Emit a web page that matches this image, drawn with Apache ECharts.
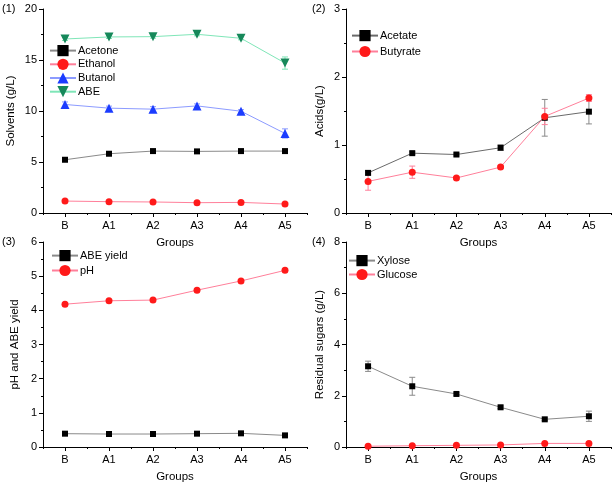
<!DOCTYPE html>
<html>
<head>
<meta charset="utf-8">
<script src="https://cdn.jsdelivr.net/npm/echarts@6/dist/echarts.min.js"></script>
<style>html,body{margin:0;padding:0;background:#fff}#c{width:614px;height:485px}</style>
</head>
<body>
<div id="c"></div>
<script>
const categories = ['B', 'A1', 'A2', 'A3', 'A4', 'A5'];
// Panel 1: solvents (g/L)
const acetone = [5.22, 5.81, 6.07, 6.04, 6.07, 6.07];
const acetoneErr = [0.15, 0.15, 0.12, 0.12, 0.12, 0.15];
const ethanol = [1.17, 1.11, 1.08, 1.01, 1.04, 0.88];
const ethanolErr = [0.05, 0.05, 0.05, 0.05, 0.05, 0.05];
const butanol = [10.64, 10.28, 10.18, 10.5, 9.98, 7.8];
const butanolErr = [0.25, 0.2, 0.25, 0.2, 0.15, 0.45];
const abe = [17.06, 17.26, 17.29, 17.52, 17.13, 14.7];
const abeErr = [0.15, 0.15, 0.15, 0.15, 0.15, 0.6];
// Panel 2: acids (g/L)
const acetate = [0.59, 0.88, 0.86, 0.96, 1.40, 1.49];
const acetateErr = [0.03, 0.02, 0.02, 0.04, 0.27, 0.18];
const butyrate = [0.465, 0.60, 0.515, 0.675, 1.42, 1.69];
const butyrateErr = [0.13, 0.09, 0.02, 0.02, 0.12, 0.05];
// Panel 3: pH and ABE yield
const abeYield = [0.39, 0.38, 0.38, 0.39, 0.40, 0.34];
const abeYieldErr = [0.01, 0.01, 0.01, 0.01, 0.01, 0.01];
const ph = [4.18, 4.28, 4.30, 4.59, 4.86, 5.17];
const phErr = [0.02, 0.02, 0.02, 0.02, 0.02, 0.02];
// Panel 4: residual sugars (g/L)
const xylose = [3.15, 2.37, 2.07, 1.55, 1.08, 1.20];
const xyloseErr = [0.2, 0.35, 0.05, 0.05, 0.05, 0.2];
const glucose = [0.03, 0.05, 0.065, 0.08, 0.14, 0.14];
const glucoseErr = [0.01, 0.01, 0.01, 0.01, 0.01, 0.01];

const FONT = 'Liberation Sans, Arial, sans-serif';
const chart = echarts.init(document.getElementById('c'), null, {renderer: 'canvas'});

const grids = [
  {left: 43, top: 9, width: 264, height: 204},
  {left: 346, top: 9, width: 265, height: 204},
  {left: 43, top: 242, width: 264, height: 205},
  {left: 346, top: 242, width: 265, height: 205}
];
const yCfg = [
  {max: 20, interval: 5, name: 'Solvents (g/L)', gap: 26},
  {max: 3, interval: 1, name: 'Acids(g/L)', gap: 20},
  {max: 6, interval: 1, name: 'pH and ABE yield', gap: 22},
  {max: 8, interval: 2, name: 'Residual sugars (g/L)', gap: 20}
];

const xAxis = [], yAxis = [];
grids.forEach((g, i) => {
  xAxis.push({
    type: 'category', gridIndex: i, data: categories, boundaryGap: true,
    name: 'Groups', nameLocation: 'middle', nameGap: 24,
    nameTextStyle: {fontFamily: FONT, fontSize: 11.5, color: '#000'},
    axisLine: {lineStyle: {color: '#000', width: 1}},
    axisTick: {show: true, alignWithLabel: false, length: 2, lineStyle: {color: '#000'}},
    axisLabel: {fontFamily: FONT, fontSize: 11, color: '#000', margin: 7},
    splitLine: {show: false}
  });
  xAxis.push({
    type: 'category', gridIndex: i, data: categories, boundaryGap: true, position: 'bottom',
    axisLine: {show: false},
    axisTick: {show: true, alignWithLabel: true, length: 4, lineStyle: {color: '#000'}},
    axisLabel: {show: false}, splitLine: {show: false}
  });
  const c = yCfg[i];
  yAxis.push({
    type: 'value', gridIndex: i, min: 0, max: c.max, interval: c.interval,
    name: c.name, nameLocation: 'middle', nameGap: c.gap, nameRotate: 90,
    nameTextStyle: {fontFamily: FONT, fontSize: 11.5, color: '#000'},
    axisLine: {show: true, lineStyle: {color: '#000', width: 1}},
    axisTick: {show: true, length: 4, lineStyle: {color: '#000'}},
    minorTick: {show: true, splitNumber: 2, length: 2, lineStyle: {color: '#000'}},
    axisLabel: {fontFamily: FONT, fontSize: 11, color: '#000', margin: 6},
    splitLine: {show: false}, minorSplitLine: {show: false}
  });
});

function lineSeries(name, data, gi, symbol, size, mColor, lColor) {
  return {
    type: 'line', name: name, data: data, xAxisIndex: gi * 2, yAxisIndex: gi,
    symbol: symbol, symbolSize: size, showSymbol: true,
    itemStyle: {color: mColor}, lineStyle: {color: lColor, width: 1},
    z: 5, animation: false
  };
}
function errSeries(name, vals, errs, gi, color) {
  return {
    type: 'custom', name: name + '_err', xAxisIndex: gi * 2, yAxisIndex: gi,
    data: vals.map((v, i) => [i, v - errs[i], v + errs[i]]),
    renderItem: function (params, api) {
      const lo = api.coord([api.value(0), api.value(1)]);
      const hi = api.coord([api.value(0), api.value(2)]);
      const w = 3;
      const st = {stroke: color, lineWidth: 1};
      return {type: 'group', children: [
        {type: 'line', shape: {x1: lo[0], y1: lo[1], x2: hi[0], y2: hi[1]}, style: st},
        {type: 'line', shape: {x1: lo[0] - w, y1: lo[1], x2: lo[0] + w, y2: lo[1]}, style: st},
        {type: 'line', shape: {x1: hi[0] - w, y1: hi[1], x2: hi[0] + w, y2: hi[1]}, style: st}
      ]};
    },
    z: 3, animation: false, silent: true
  };
}

const BLK = '#000', GRY = '#8a8a8a', RED = '#ff1a1a', PNK = '#ff7f9a',
      BLU = '#1b3cff', LBL = '#8c9bff', GRN = '#16885a', LGR = '#7fe6b8';

const series = [
  errSeries('Acetone', acetone, acetoneErr, 0, GRY),
  errSeries('Ethanol', ethanol, ethanolErr, 0, PNK),
  errSeries('Butanol', butanol, butanolErr, 0, LBL),
  errSeries('ABE', abe, abeErr, 0, LGR),
  lineSeries('Acetone', acetone, 0, 'rect', 6, BLK, GRY),
  lineSeries('Ethanol', ethanol, 0, 'circle', 7, RED, PNK),
  lineSeries('Butanol', butanol, 0, 'triangle', 9, BLU, LBL),
  lineSeries('ABE', abe, 0, 'path://M0,0 L10,0 L5,9 Z', 9, GRN, LGR),
  errSeries('Acetate', acetate, acetateErr, 1, GRY),
  errSeries('Butyrate', butyrate, butyrateErr, 1, PNK),
  lineSeries('Acetate', acetate, 1, 'rect', 6, BLK, '#6a6a6a'),
  lineSeries('Butyrate', butyrate, 1, 'circle', 7, RED, PNK),
  errSeries('ABE yield', abeYield, abeYieldErr, 2, GRY),
  errSeries('pH', ph, phErr, 2, PNK),
  lineSeries('ABE yield', abeYield, 2, 'rect', 6, BLK, GRY),
  lineSeries('pH', ph, 2, 'circle', 7, RED, PNK),
  errSeries('Xylose', xylose, xyloseErr, 3, GRY),
  errSeries('Glucose', glucose, glucoseErr, 3, PNK),
  lineSeries('Xylose', xylose, 3, 'rect', 6, BLK, GRY),
  lineSeries('Glucose', glucose, 3, 'circle', 7, RED, PNK)
];

function legend(names, left, top, gap) {
  return {
    data: names, orient: 'vertical', left: left, top: top, itemGap: gap,
    itemWidth: 26, itemHeight: 14, padding: 0, selectedMode: false,
    textStyle: {fontFamily: FONT, fontSize: 11, color: '#000', padding: [0, 0, 0, -3]}
  };
}

chart.setOption({
  backgroundColor: '#fff',
  animation: false,
  grid: grids,
  xAxis: xAxis,
  yAxis: yAxis,
  legend: [
    legend(['Acetone', 'Ethanol', 'Butanol', 'ABE'], 49, 45, 2.5),
    legend(['Acetate', 'Butyrate'], 351, 30, 4.7),
    legend(['ABE yield', 'pH'], 51, 250, 3.7),
    legend(['Xylose', 'Glucose'], 348, 255, 2.7)
  ],
  graphic: [
    {type: 'text', left: 2, top: 3, style: {text: '(1)', font: '11px ' + FONT, fill: '#000'}},
    {type: 'text', left: 312, top: 3, style: {text: '(2)', font: '11px ' + FONT, fill: '#000'}},
    {type: 'text', left: 2, top: 236, style: {text: '(3)', font: '11px ' + FONT, fill: '#000'}},
    {type: 'text', left: 312, top: 236, style: {text: '(4)', font: '11px ' + FONT, fill: '#000'}}
  ],
  series: series
});
</script>
</body>
</html>
